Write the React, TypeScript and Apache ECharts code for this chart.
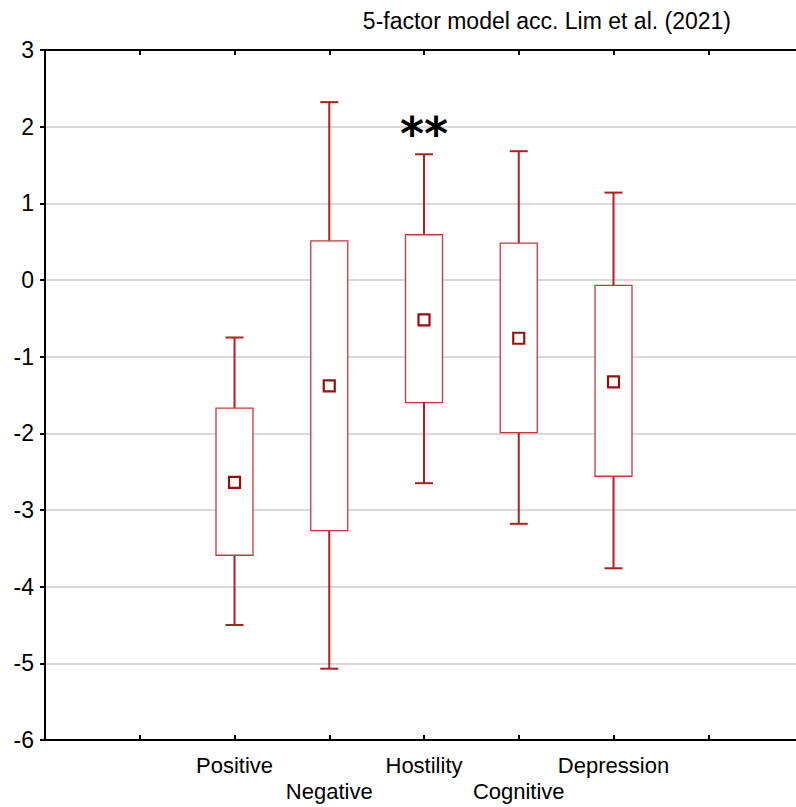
import React, { useEffect, useRef } from "react";
import * as echarts from "echarts";

const categories = ["Positive", "Negative", "Hostility", "Cognitive", "Depression"];
const whiskerHigh = [-0.75, 2.32, 1.64, 1.68, 1.14];
const boxHigh = [-1.67, 0.51, 0.59, 0.48, -0.07];
const means = [-2.64, -1.38, -0.52, -0.76, -1.33];
const boxLow = [-3.59, -3.27, -1.6, -1.99, -2.56];
const whiskerLow = [-4.5, -5.07, -2.65, -3.18, -3.76];
const yTicks = { min: -6, max: 3, interval: 1 };
const titleText = "5-factor model acc. Lim et al. (2021)";
const significance = { category: "Hostility", value: 2.01, text: "**" };

const FONT = "'Liberation Sans', Arial, sans-serif";
const WHISKER = "#b01e1e";
const BOX = "#c23a3a";
const MEAN = "#980f0f";
const CHART_W = 803;

export default function App() {
  const ref = useRef<HTMLDivElement>(null);
  useEffect(() => {
    if (!ref.current) return;
    const chart = echarts.init(ref.current, null, { renderer: "svg" });
    const xPos = (i: number) => i + 2;
    const boxData = categories.map((_, i) => [xPos(i), whiskerLow[i], boxLow[i], boxHigh[i], whiskerHigh[i]]);
    const meanData = categories.map((_, i) => [xPos(i), means[i]]);
    const labelFor = (v: number) => {
      const idx = Math.round(v) - 2;
      if (idx < 0 || idx >= categories.length || Math.abs(v - Math.round(v)) > 1e-6) return "";
      return idx % 2 === 1 ? "\n" + categories[idx] : categories[idx];
    };
    const xCommon = {
      type: "value",
      min: 0,
      max: 8,
      interval: 1,
      splitLine: { show: false },
      axisLine: { show: true, onZero: false, lineStyle: { color: "#000", width: 2 } },
      axisTick: { show: true, inside: true, length: 5, lineStyle: { color: "#000", width: 2 } },
    };
    chart.setOption({
      animation: false,
      backgroundColor: "#fff",
      grid: { left: 45, right: 0, top: 50, bottom: 67, containLabel: false },
      graphic: [
        {
          type: "text",
          right: CHART_W - 731,
          top: 9,
          style: { text: titleText, font: `23px ${FONT}`, fill: "#000" },
        },
      ],
      xAxis: [
        {
          ...xCommon,
          position: "bottom",
          axisLabel: {
            show: true,
            formatter: (v: number) => labelFor(v),
            color: "#000",
            fontSize: 22,
            fontFamily: FONT,
            lineHeight: 26,
            margin: 12,
            showMinLabel: false,
            showMaxLabel: false,
          },
        },
        {
          ...xCommon,
          position: "top",
          axisLabel: { show: false },
        },
      ],
      yAxis: {
        type: "value",
        min: yTicks.min,
        max: yTicks.max,
        interval: yTicks.interval,
        axisLine: { show: true, onZero: false, lineStyle: { color: "#000", width: 2 } },
        axisTick: { show: true, inside: false, length: 5, lineStyle: { color: "#000", width: 2 } },
        axisLabel: { color: "#000", fontSize: 23, fontFamily: FONT, margin: 11 },
        splitLine: { show: true, lineStyle: { color: "#d9d9d9", width: 2 } },
      },
      series: [
        {
          type: "custom",
          xAxisIndex: 0,
          data: boxData,
          encode: { x: 0, y: [1, 2, 3, 4] },
          z: 3,
          renderItem: (params: any, api: any) => {
            const x = api.value(0);
            const wl = api.coord([x, api.value(1)]);
            const q1 = api.coord([x, api.value(2)]);
            const q3 = api.coord([x, api.value(3)]);
            const wh = api.coord([x, api.value(4)]);
            const cx = wl[0];
            const boxW = 37;
            const capW = 18;
            const wStyle = { stroke: WHISKER, lineWidth: 2, fill: "none" };
            return {
              type: "group",
              children: [
                { type: "line", shape: { x1: cx, y1: wh[1], x2: cx, y2: q3[1] }, style: wStyle },
                { type: "line", shape: { x1: cx - capW / 2, y1: wh[1], x2: cx + capW / 2, y2: wh[1] }, style: wStyle },
                { type: "line", shape: { x1: cx, y1: q1[1], x2: cx, y2: wl[1] }, style: wStyle },
                { type: "line", shape: { x1: cx - capW / 2, y1: wl[1], x2: cx + capW / 2, y2: wl[1] }, style: wStyle },
                {
                  type: "rect",
                  shape: { x: cx - boxW / 2, y: q3[1], width: boxW, height: q1[1] - q3[1] },
                  style: { fill: "#fff", stroke: BOX, lineWidth: 1.3 },
                },
              ],
            };
          },
        },
        {
          type: "scatter",
          xAxisIndex: 0,
          data: meanData,
          symbol: "rect",
          symbolSize: 11,
          z: 5,
          itemStyle: { color: "#fff", borderColor: MEAN, borderWidth: 2.2, opacity: 1 },
        },
        {
          type: "scatter",
          xAxisIndex: 0,
          data: [[xPos(categories.indexOf(significance.category)), significance.value]],
          symbol: "circle",
          symbolSize: 2,
          z: 6,
          itemStyle: { color: "rgba(0,0,0,0)", opacity: 1 },
          label: {
            show: true,
            position: "inside",
            formatter: () => significance.text,
            color: "#000",
            opacity: 1,
            fontSize: 46,
            fontWeight: "bold",
            fontFamily: "'DejaVu Sans', sans-serif",
            offset: [0, 8],
          },
        },
      ],
    });
    return () => chart.dispose();
  }, []);
  return (
    <div style={{ position: "fixed", left: 0, top: 0, width: 796, height: 807, overflow: "hidden" }}>
      <div ref={ref} style={{ width: CHART_W, height: 807 }} />
    </div>
  );
}
